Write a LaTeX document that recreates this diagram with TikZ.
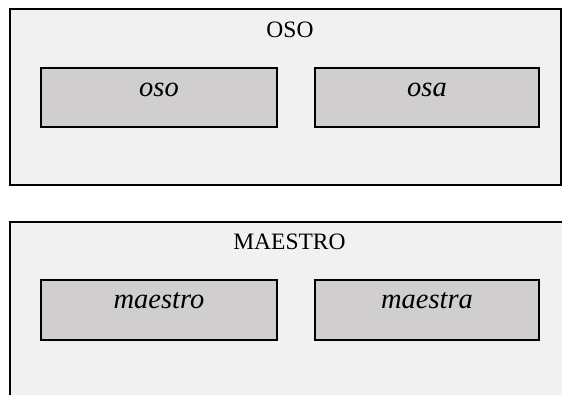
\documentclass[tikz,border=0pt]{standalone}
\usepackage{fontspec}
\setmainfont{Liberation Serif}
\definecolor{outerfill}{HTML}{F1F1F1}
\definecolor{innerfill}{HTML}{D0CECF}
\begin{document}
\begin{tikzpicture}[x=1pt,y=-1pt,
  outerbox/.style={draw=black,fill=outerfill,line width=2pt,rectangle,inner sep=0pt},
  innerbox/.style={draw=black,fill=innerfill,line width=2pt,rectangle,inner sep=0pt,minimum width=236pt,minimum height=59pt},
  titletext/.style={anchor=base,inner sep=0pt,font=\fontsize{23.5}{26}\selectfont},
  itemtext/.style={anchor=base,inner sep=0pt,font=\fontsize{28.5}{32}\selectfont\itshape}]
\useasboundingbox (0,0) rectangle (562,395);
% top group
\node[outerbox,minimum width=551pt,minimum height=176pt] (g1) at (285.5,97) {};
\node[titletext] (t1) at (290,37.3) {OSO};
\node[innerbox] (b1) at (159,97.5) {};
\node[innerbox,minimum width=224pt] (b2) at (427,97.5) {};
\node[itemtext] (l1) at (159,96.7) {oso};
\node[itemtext] (l2) at (427,96.7) {osa};
% bottom group (clipped at the picture edge)
\begin{scope}
\clip (0,0) rectangle (562,395);
\node[outerbox,minimum width=560pt,minimum height=190pt] (g2) at (290,316.7) {};
\end{scope}
\node[titletext] (t2) at (289.5,250) {MAESTRO};
\node[innerbox] (b3) at (159,310) {};
\node[innerbox,minimum width=224pt] (b4) at (427,310) {};
\node[itemtext] (l3) at (159,308.3) {maestro};
\node[itemtext] (l4) at (427,308.3) {maestra};
\end{tikzpicture}
\end{document}
